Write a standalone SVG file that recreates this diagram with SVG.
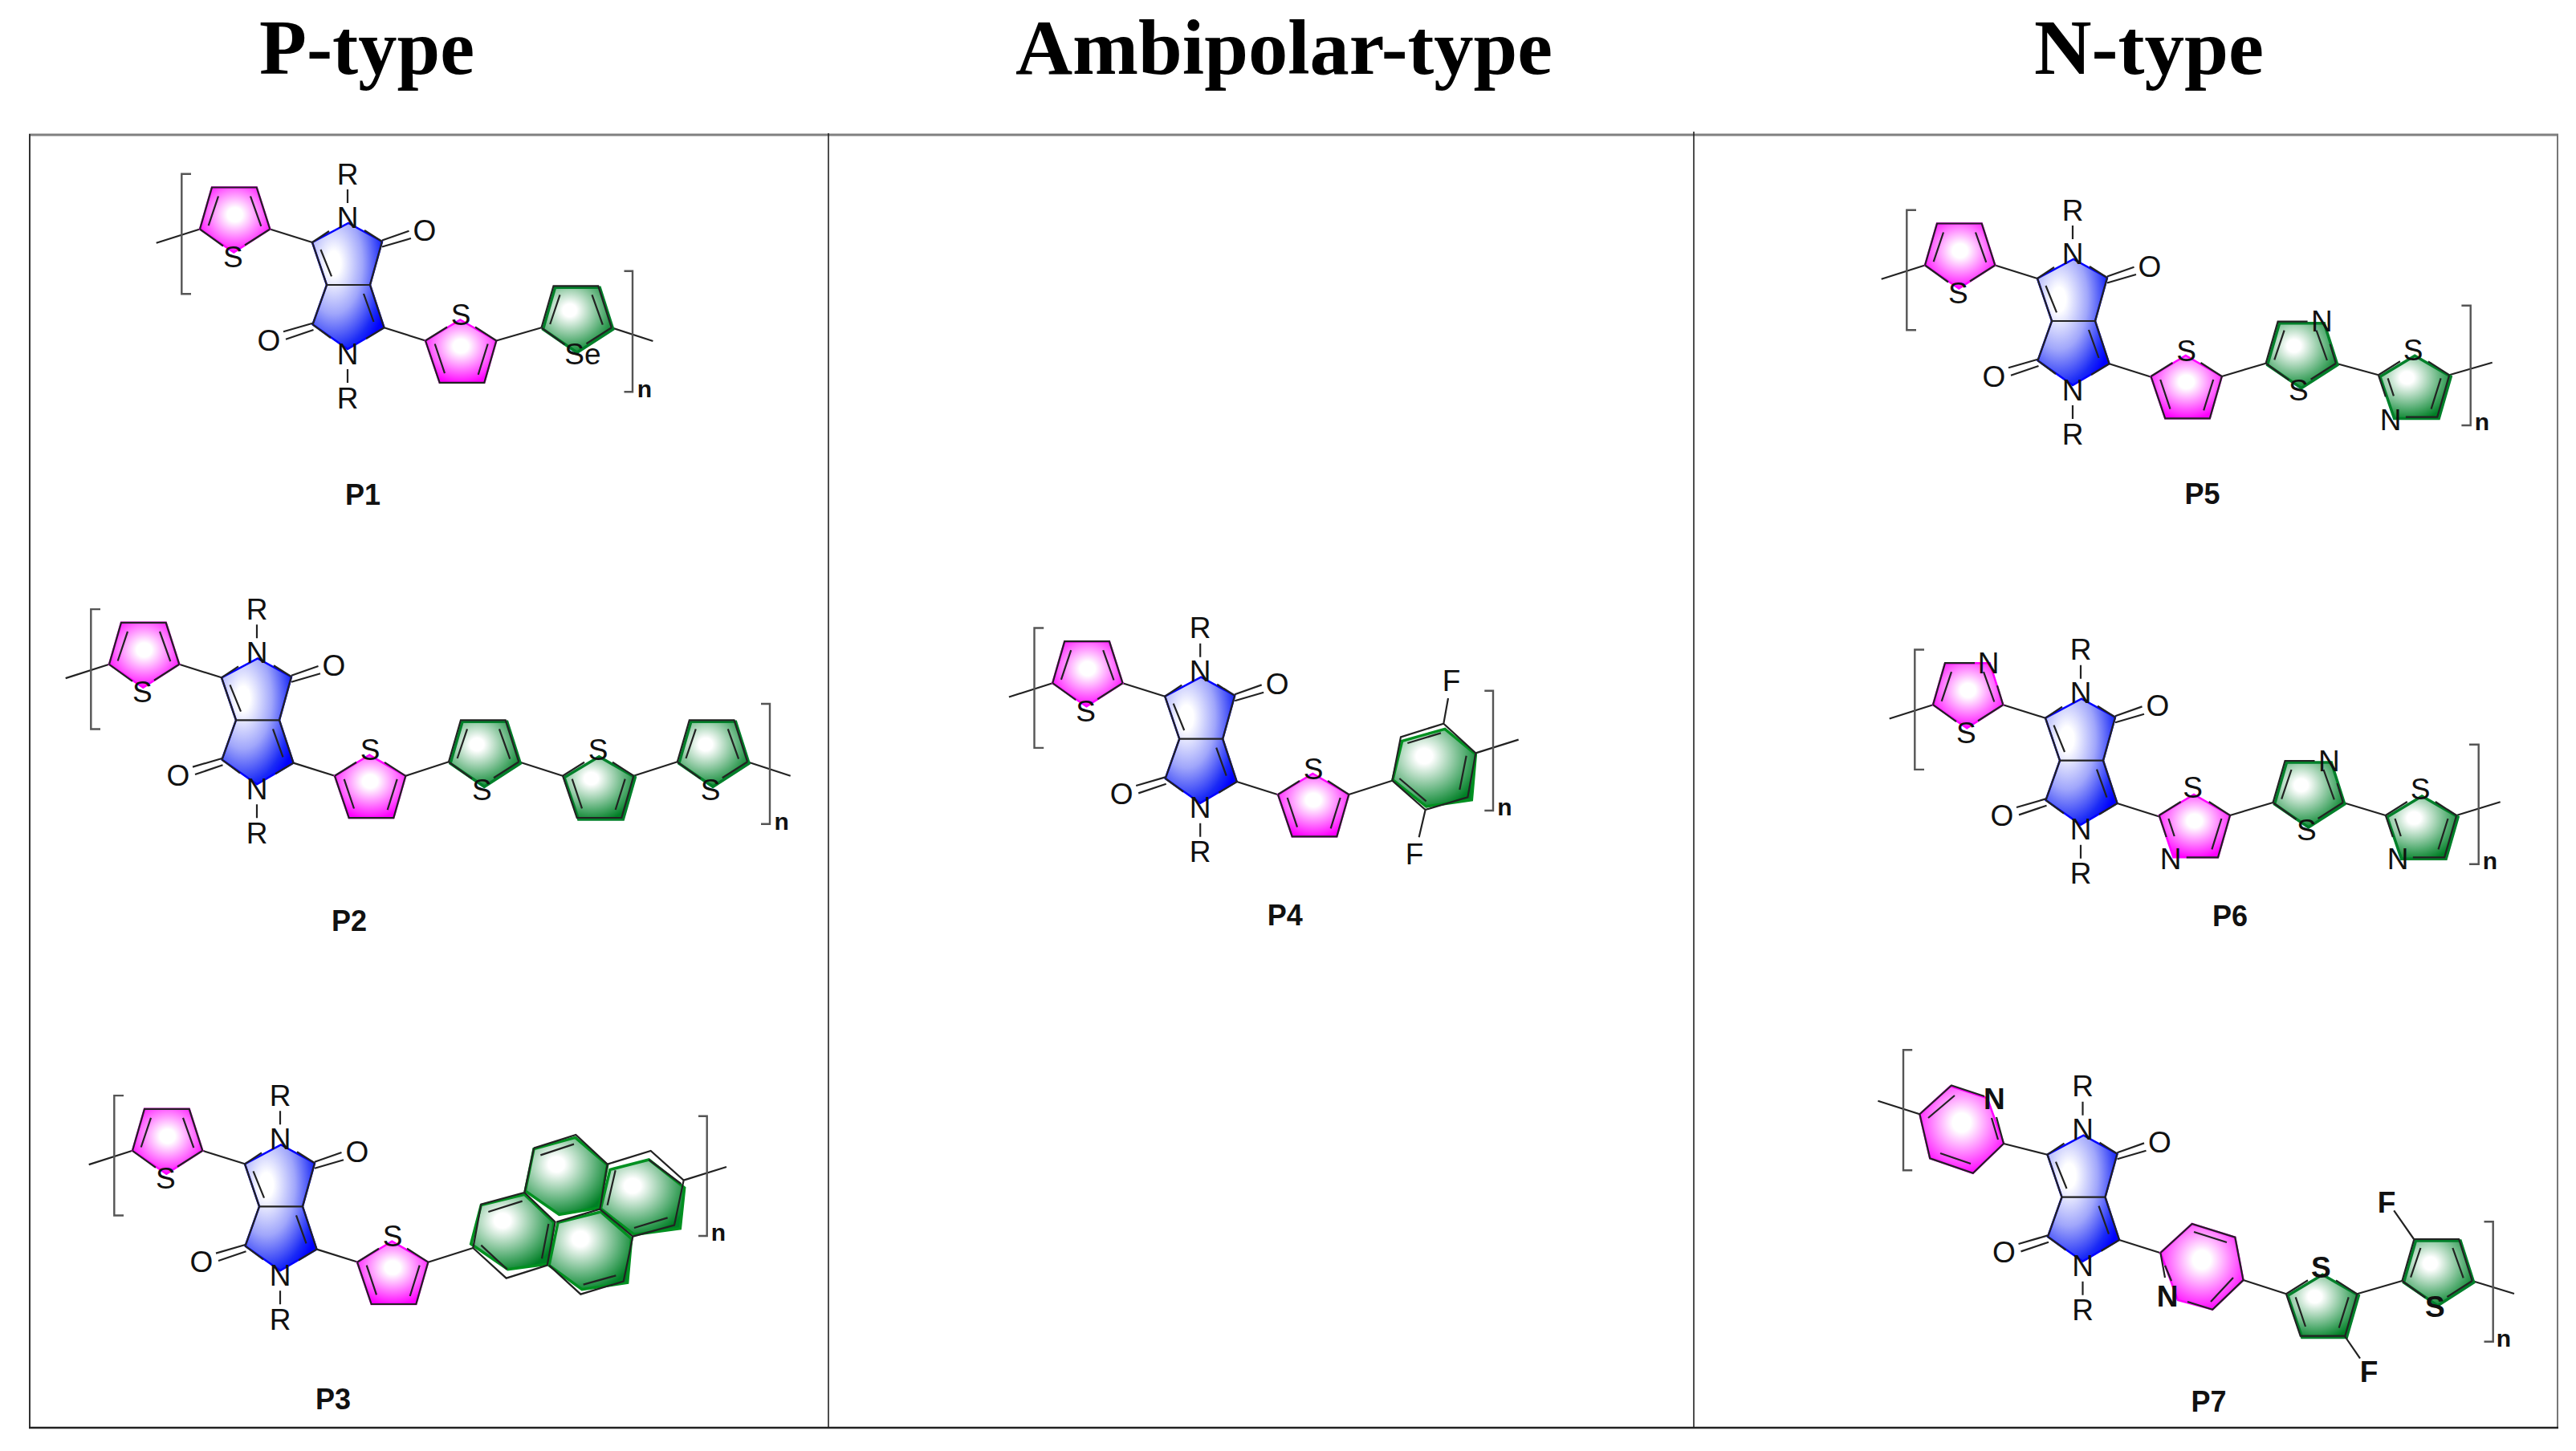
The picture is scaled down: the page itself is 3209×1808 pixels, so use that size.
<svg xmlns="http://www.w3.org/2000/svg" width="3209" height="1808" viewBox="0 0 3209 1808">
<style>
text{font-family:"Liberation Sans",Arial,sans-serif;fill:#111;text-anchor:middle}
.a{font-size:37px;dominant-baseline:central}
.ab{font-size:37px;dominant-baseline:central;font-weight:bold}
.n{font-size:30px;font-weight:bold}
.l{font-size:36px;font-weight:bold}
.h{font-family:"Liberation Serif","Times New Roman",serif;font-size:98px;font-weight:bold;fill:#000}
.b{fill:none;stroke:#222;stroke-width:2.2;vector-effect:non-scaling-stroke}
.br{fill:none;stroke:#555;stroke-width:2.4;vector-effect:non-scaling-stroke}
.f{transform:translate(var(--o,0px),var(--o,0px))}
.mg{fill:url(#gm);stroke:#f0f;stroke-width:2.5;vector-effect:non-scaling-stroke}
.gr{fill:url(#gg);stroke:#00802a;stroke-width:3.5;--o:2px;vector-effect:non-scaling-stroke}
.gp{fill:url(#gg);stroke:#009020;stroke-width:3.5;vector-effect:non-scaling-stroke}
</style>
<defs>
<radialGradient id="gm" cx=".5" cy=".42" r=".6"><stop offset="0" stop-color="#fff"/><stop offset=".18" stop-color="#fff"/><stop offset=".85" stop-color="#ff30ff"/><stop offset="1" stop-color="#f0f"/></radialGradient>
<radialGradient id="gg" cx=".38" cy=".35" r=".7"><stop offset="0" stop-color="#fff"/><stop offset=".14" stop-color="#fff"/><stop offset=".7" stop-color="#55ad72"/><stop offset="1" stop-color="#007f25"/></radialGradient>
<radialGradient id="gb" cx=".3" cy=".32" r=".8"><stop offset="0" stop-color="#fff"/><stop offset=".12" stop-color="#fff"/><stop offset=".5" stop-color="#a0a6fb"/><stop offset=".85" stop-color="#1a2af6"/><stop offset="1" stop-color="#00f"/></radialGradient>
<g id="core">
<polygon points="-45,-53 0,-77 42,-54 27,0 44.5,53.3 -1,80 -44.5,49.3 -27,0" fill="url(#gb)" stroke="#00f" stroke-width="2.5"/>
<path class="b" d="M-45,-53L-27,0L-44.5,49.3M42,-54L27,0L44.5,53.3M-27,0H27M-34.5,-44L-21,-10.7M19,11L31.5,46M-45,-53L-24,-67M20,-68L42,-54M44.5,53.3L22,67M-44.5,49.3L-22,66M42,-55.5L75.5,-67.3M42,-47.5L78,-58M-44.5,47.7L-81,58.3M-43.5,56L-78,67.7M-1,-119V-102M-1,105V122M44.5,53.3L96,69.5"/>
</g>
<path id="lead" class="b" d="M-239.3,-52.2L-185,-69.5M-97.7,-69.5L-45,-53"/>
<path id="brk" class="br" d="M-196,-138.2H-207.7V11.2H-196"/>
<g id="tD"><polygon class="f" points="0,0 15,-52 70.7,-52 87.3,0 42.3,29"/><path class="b" d="M0,0L15,-52H70.7L87.3,0M0,0L29,21M87.3,0L56,20M23,-41L10.7,-4.3M63,-41L76.3,-3.7"/></g>
<g id="tU"><polygon class="f" points="0,0 43.3,-26 88.3,0 73.3,52.3 17.7,52.3"/><path class="b" d="M0,0L17.7,52.3H73.3L88.3,0M0,0L27,-17M88.3,0L62,-17M11.7,4L24,40.7M77.7,4L65.7,42.3"/></g>
<g id="tDn"><polygon class="f" points="0,0 15,-52 70.7,-52 87.3,0 42.3,29"/><path class="b" d="M0,0L15,-52H52M87.3,0L80,-24M0,0L29,21M87.3,0L56,20M23,-41L10.7,-4.3M63,-41L76.3,-3.7"/></g>
<g id="tUn"><polygon class="f" points="0,0 43.3,-26 88.3,0 73.3,52.3 17.7,52.3"/><path class="b" d="M0,0L9,27M34,52.3H73.3L88.3,0M0,0L27,-17M88.3,0L62,-17M11.7,4L19,26M77.7,4L65.7,42.3"/></g>
</defs>
<rect width="3209" height="1808" fill="#fff"/>

<g id="titles">
<text class="h" x="457" y="92" textLength="268" lengthAdjust="spacingAndGlyphs">P-type</text>
<text class="h" x="1599.5" y="92" textLength="669" lengthAdjust="spacingAndGlyphs">Ambipolar-type</text>
<text class="h" x="2677" y="92" textLength="286" lengthAdjust="spacingAndGlyphs">N-type</text>
</g>

<g id="frame" fill="none">
<path d="M36,168H3187" stroke="#808080" stroke-width="3"/>
<path d="M37,167V1779" stroke="#333" stroke-width="2"/>
<path d="M3186,167V1779" stroke="#777" stroke-width="2"/>
<path d="M36,1779H3187" stroke="#222" stroke-width="2.5"/>
<path d="M1032,166V1778M2110,164V1778" stroke="#222" stroke-width="1.6"/>
</g>

<!-- P1 -->
<g id="P1">
<g transform="translate(434,355)"><use href="#core"/><use href="#lead"/><use href="#brk"/><use href="#tD" class="mg" x="-185" y="-69.5"/>
<text class="a" x="-143.7" y="-34.5">S</text><text class="a" x="-1" y="-84">N</text><text class="a" x="-1" y="-138">R</text><text class="a" x="95" y="-68">O</text><text class="a" x="-99" y="69">O</text><text class="a" x="-1" y="86">N</text><text class="a" x="-1" y="141">R</text></g>
<use href="#tU" class="mg" x="530" y="424.5"/><text class="a" x="574" y="392.5">S</text>
<path class="b" d="M618.3,424.5L674.5,408.3M762,408.3L813.4,425"/>
<use href="#tD" class="gr" x="674.5" y="408.3"/><text class="a" x="726" y="441.7">Se</text>
<path class="br" d="M777.5,337.7H788V488.3H777.5"/><text class="n" x="803" y="495">n</text>
<text class="l" x="452" y="629">P1</text>
</g>

<!-- P2 -->
<g id="P2">
<g transform="translate(321,897.3)"><use href="#core"/><use href="#lead"/><use href="#brk"/><use href="#tD" class="mg" x="-185" y="-69.5"/>
<text class="a" x="-143.7" y="-34.5">S</text><text class="a" x="-1" y="-84">N</text><text class="a" x="-1" y="-138">R</text><text class="a" x="95" y="-68">O</text><text class="a" x="-99" y="69">O</text><text class="a" x="-1" y="86">N</text><text class="a" x="-1" y="141">R</text></g>
<use href="#tU" class="mg" x="417" y="966.8"/><text class="a" x="461" y="934.8">S</text>
<path class="b" d="M505.3,966.8L559,949.3M646.3,949.3L701,966.7M789.3,966.7L843.8,949.3M931.1,949.3L984.7,966.7"/>
<use href="#tD" class="gr" x="559" y="949.3"/><text class="a" x="600.3" y="984.3">S</text>
<use href="#tU" class="gr" x="701" y="966.7"/><text class="a" x="745" y="934.7">S</text>
<use href="#tD" class="gr" x="843.8" y="949.3"/><text class="a" x="885" y="984.3">S</text>
<path class="br" d="M948,877H959V1026.7H948"/><text class="n" x="973.6" y="1034">n</text>
<text class="l" x="435" y="1160">P2</text>
</g>

<!-- P3 -->
<g id="P3">
<g transform="translate(350,1503.3)"><use href="#core"/><use href="#lead"/><use href="#brk"/><use href="#tD" class="mg" x="-185" y="-69.5"/>
<text class="a" x="-143.7" y="-34.5">S</text><text class="a" x="-1" y="-84">N</text><text class="a" x="-1" y="-138">R</text><text class="a" x="95" y="-68">O</text><text class="a" x="-99" y="69">O</text><text class="a" x="-1" y="86">N</text><text class="a" x="-1" y="141">R</text></g>
<use href="#tU" class="mg" x="445" y="1572.7"/><text class="a" x="489" y="1540.7">S</text>
<path class="b" d="M533.3,1572.7L589.3,1555"/>
<g transform="translate(560,1380) scale(.33333)">
<polygon class="gp" points="118,365 280,325 390,430 370,585 218,605 80,510"/>
<polygon class="gp" points="315,155 470,112 590,215 560,375 410,400 283,312"/>
<polygon class="gp" points="600,232 745,195 878,300 862,452 690,475 565,378"/>
<polygon class="gp" points="405,430 565,390 680,490 665,655 495,680 372,590"/>
<path class="b" d="M88,525L118,362L280,318L395,428L365,590L212,638L88,525M315,152L472,102L590,212L562,380L400,428M280,318L315,152M590,212L752,162L875,272L840,440L685,482L562,380M685,482L650,650L490,698L372,590M145,390L272,350M118,515L215,605M345,565L370,435M340,178L465,137M590,365L620,235M745,195L865,285M690,450L815,412M500,662L622,628M875,272L1035,222"/>
</g>
<path class="br" d="M870,1390.7H880.7V1540H870"/><text class="n" x="895" y="1546">n</text>
<text class="l" x="415" y="1756">P3</text>
</g>

<!-- P4 -->
<g id="P4">
<g transform="translate(1496.2,920.7)"><use href="#core"/><use href="#lead"/><use href="#brk"/><use href="#tD" class="mg" x="-185" y="-69.5"/>
<text class="a" x="-143.7" y="-34.5">S</text><text class="a" x="-1" y="-84">N</text><text class="a" x="-1" y="-138">R</text><text class="a" x="95" y="-68">O</text><text class="a" x="-99" y="69">O</text><text class="a" x="-1" y="86">N</text><text class="a" x="-1" y="141">R</text></g>
<use href="#tU" class="mg" x="1592" y="990"/><text class="a" x="1636" y="958">S</text>
<path class="b" d="M1680.3,990L1734.3,972.7"/>
<g transform="translate(1600,820) scale(.33333)">
<polygon class="gp" points="405,455 440,310 600,265 715,360 700,530 530,555"/>
<path class="b" d="M403,458L435,295L595,245L715,355L685,520L527,567L403,458M460,318L585,280M430,450L530,535M680,365L655,492M595,245L612,150M527,567L503,670M715,355L875,305"/>
</g>
<text class="a" x="1808" y="848">F</text><text class="a" x="1762" y="1064">F</text>
<path class="br" d="M1849.3,860.7H1860V1010H1849.3"/><text class="n" x="1874.3" y="1016">n</text>
<text class="l" x="1600.7" y="1153">P4</text>
</g>

<!-- P5 -->
<g id="P5">
<g transform="translate(2583,400)"><use href="#core"/><use href="#lead"/><use href="#brk"/><use href="#tD" class="mg" x="-185" y="-69.5"/>
<text class="a" x="-143.7" y="-34.5">S</text><text class="a" x="-1" y="-84">N</text><text class="a" x="-1" y="-138">R</text><text class="a" x="95" y="-68">O</text><text class="a" x="-99" y="69">O</text><text class="a" x="-1" y="86">N</text><text class="a" x="-1" y="141">R</text></g>
<use href="#tU" class="mg" x="2679.5" y="469"/><text class="a" x="2723.5" y="437">S</text>
<path class="b" d="M2767.8,469L2822.6,452.7M2909.9,452.7L2962.9,467.3M3051.2,467.3L3104.7,451.7"/>
<use href="#tDn" class="gr" x="2822.6" y="452.7"/><text class="a" x="2892.4" y="400">N</text><text class="a" x="2863.4" y="486.7">S</text>
<use href="#tUn" class="gr" x="2962.9" y="467.3"/><text class="a" x="3006" y="436">S</text><text class="a" x="2978" y="523">N</text>
<path class="br" d="M3066.4,380.7H3077.7V530H3066.4"/><text class="n" x="3092" y="536">n</text>
<text class="l" x="2743.5" y="628">P5</text>
</g>

<!-- P6 -->
<g id="P6">
<g transform="translate(2593,947.7)"><use href="#core"/><use href="#lead"/><use href="#brk"/><use href="#tDn" class="mg" x="-185" y="-69.5"/>
<text class="a" x="-116" y="-121">N</text><text class="a" x="-143.7" y="-34.5">S</text><text class="a" x="-1" y="-84">N</text><text class="a" x="-1" y="-138">R</text><text class="a" x="95" y="-68">O</text><text class="a" x="-99" y="69">O</text><text class="a" x="-1" y="86">N</text><text class="a" x="-1" y="141">R</text></g>
<use href="#tUn" class="mg" x="2689.7" y="1016"/><text class="a" x="2731.5" y="981.7">S</text><text class="a" x="2704" y="1070">N</text>
<path class="b" d="M2778,1016L2831.5,1000M2918.8,1000L2971.8,1016M3060.1,1016L3114.7,999.3"/>
<use href="#tDn" class="gr" x="2831.5" y="1000"/><text class="a" x="2901.4" y="948.3">N</text><text class="a" x="2873.4" y="1034">S</text>
<use href="#tUn" class="gr" x="2971.8" y="1016"/><text class="a" x="3015" y="983">S</text><text class="a" x="2987" y="1070.7">N</text>
<path class="br" d="M3076,927.7H3087.7V1076.7H3076"/><text class="n" x="3102" y="1083">n</text>
<text class="l" x="2778" y="1154">P6</text>
</g>

<!-- P7 -->
<g id="P7">
<g transform="translate(2595.5,1491.7)"><use href="#core"/>
<text class="a" x="-1" y="-84">N</text><text class="a" x="-1" y="-138">R</text><text class="a" x="95" y="-68">O</text><text class="a" x="-99" y="69">O</text><text class="a" x="-1" y="86">N</text><text class="a" x="-1" y="141">R</text></g>
<polygon class="mg" points="2391.4,1388.3 2429.7,1353.3 2475.6,1368.3 2496,1425 2457.8,1461.7 2404.2,1443.3"/>
<path class="b" d="M2339.4,1371.7L2391.4,1388.3L2431,1352.5L2472,1366M2487,1392L2496,1425L2457.8,1461.7L2404.2,1443.3L2391.4,1388.3M2402,1393L2435,1365M2489,1420L2481,1393M2417,1437L2455,1450M2496,1425L2550.5,1438.7"/>
<path class="br" d="M2382.2,1308.3H2371V1458.3H2382.2"/>
<text class="ab" x="2484.3" y="1369">N</text>
<polygon class="mg" points="2691.4,1561 2730.7,1525 2784.3,1541.7 2794.5,1595 2756.2,1631.7 2712.9,1620"/>
<path class="b" d="M2691.4,1561L2730.7,1525L2784.3,1541.7L2794.5,1595L2756.2,1631.7L2725,1622M2691.4,1561L2697,1592M2733,1535L2774,1548M2782,1592L2754,1622M2697,1577L2705,1596M2794.5,1595L2848,1612.3"/>
<text class="ab" x="2700" y="1615">N</text>
<use href="#tU" class="gr" x="2848" y="1612.3"/><text class="ab" x="2891.4" y="1579.3">S</text>
<path class="b" d="M2921,1665L2940,1692.7M2936.3,1612.3L2992.4,1596M3007,1544L2982.2,1508.3M3079.7,1596L3132,1612"/>
<text class="ab" x="2951" y="1709">F</text>
<use href="#tD" class="gr" x="2992.4" y="1596"/><text class="ab" x="3033.3" y="1628.3">S</text><text class="ab" x="2973" y="1498">F</text>
<path class="br" d="M3094.5,1522.3H3105.7V1671.7H3094.5"/><text class="n" x="3119" y="1678">n</text>
<text class="l" x="2751.6" y="1759">P7</text>
</g>
</svg>
